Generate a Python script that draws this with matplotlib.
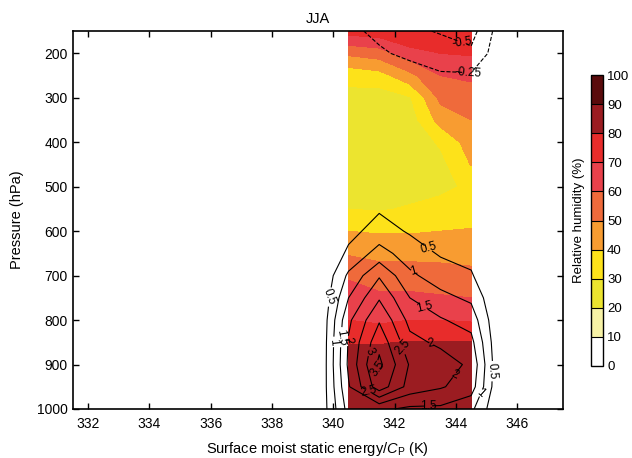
import numpy as np
import matplotlib
matplotlib.use("Agg")
import matplotlib.pyplot as plt
from matplotlib.colors import ListedColormap, BoundaryNorm

plt.rcParams["font.family"] = ["Liberation Sans", "DejaVu Sans"]
plt.rcParams["mathtext.fontset"] = "custom"
plt.rcParams["mathtext.rm"] = "Liberation Sans"
plt.rcParams["mathtext.it"] = "Liberation Sans:italic"

# pressure levels (hPa), shared by both fields
pressure = [1000, 950, 900, 850, 800, 750, 700, 650, 600, 550,
            500, 450, 400, 350, 300, 250, 200, 150]

# relative humidity (%) - one list per MSE bin, values from 1000 hPa upward
rh_mse = [340.5, 341.5, 342.5, 343.5, 344.5]
rh_3405 = [85, 85, 84, 79.5, 70, 64, 59, 49, 40, 30, 25, 23, 23, 24, 27, 33, 52, 74]
rh_3415 = [86, 86, 84, 79.5, 68, 62, 55, 47, 39, 29, 24, 22, 22, 22, 25, 36, 55, 76]
rh_3425 = [86, 86, 84, 80.5, 70, 62, 55, 47, 39, 31, 26, 23, 23, 25, 29, 47, 66, 80]
rh_3435 = [86, 86, 84, 80.5, 70, 61, 54, 47, 40, 33, 28, 27, 31.5, 44, 52.5, 60, 70, 80]
rh_3445 = [86, 86, 84, 80.5, 69, 60, 53, 46, 41, 33, 31.5, 40.5, 45, 50, 55, 62, 71, 79]

# contoured field (black lines)
ct_mse = [339.5, 340.5, 341.5, 342.5, 343.5, 344.5, 345.5]
ct_3395 = [0.0, -0.05, -0.1, -0.1, -0.1, -0.1, -0.1, -0.1, -0.1, -0.1, -0.1, -0.1, -0.1, -0.1, -0.1, -0.1, -0.1, -0.1]
ct_3405 = [1.7, 1.95, 2.1, 2.05, 1.9, 1.5, 1.1, 0.6, 0.35, 0.2, 0.1, 0.05, 0.0, 0.0, -0.05, -0.05, -0.1, -0.2]
ct_3415 = [1.6, 3.3, 3.62, 3.35, 2.95, 2.45, 1.95, 1.2, 0.7, 0.45, 0.2, 0.1, 0.05, 0.0, -0.05, -0.1, -0.22, -0.3]
ct_3425 = [1.4, 2.3, 2.45, 2.15, 1.85, 1.5, 1.1, 0.75, 0.45, 0.25, 0.15, 0.08, 0.03, 0.0, -0.05, -0.15, -0.3, -0.45]
ct_3435 = [1.4, 2.05, 2.25, 1.9, 1.55, 1.15, 0.75, 0.45, 0.3, 0.15, 0.1, 0.05, 0.0, -0.05, -0.1, -0.22, -0.38, -0.52]
ct_3445 = [1.12, 1.75, 1.9, 1.65, 1.3, 0.9, 0.55, 0.35, 0.2, 0.1, 0.05, 0.0, -0.05, -0.1, -0.15, -0.22, -0.45, -0.6]
ct_3455 = [-0.1, -0.1, -0.1, -0.1, -0.1, -0.1, -0.1, -0.1, -0.1, -0.1, -0.1, -0.1, -0.1, -0.1, -0.1, -0.1, -0.08, -0.1]

rh_levels = list(range(0, 101, 10))
rh_colors = ["#ffffff", "#f7f2a6", "#ece42f", "#fde21a", "#f89c31",
             "#ef6a3b", "#e9414b", "#e82c2b", "#9b1c21", "#5a0b0c"]
ct_levels = [-0.5, -0.25, 0.5, 1, 1.5, 2, 2.5, 3, 3.5]

# where the contour labels sit (approx)
label_spots = [
    (343.1, 640), (339.85, 745), (345.2, 915),
    (342.6, 693), (340.05, 850), (344.8, 960),
    (342.95, 779), (340.3, 840), (343.1, 987),
    (340.55, 850), (343.2, 852), (344.0, 940),
    (342.2, 870), (341.15, 963),
    (341.2, 873), (341.5, 903),
    (344.2, 176), (344.4, 236),
]

rh = np.array([rh_3405, rh_3415, rh_3425, rh_3435, rh_3445]).T
ct = np.array([ct_3395, ct_3405, ct_3415, ct_3425, ct_3435, ct_3445, ct_3455]).T

fig = plt.figure(figsize=(6.32, 4.58), dpi=100)
ax = fig.add_axes([0.115, 0.107, 0.776, 0.825])

cmap = ListedColormap(rh_colors)
norm = BoundaryNorm(rh_levels, cmap.N)
cf = ax.contourf(rh_mse, pressure, rh, levels=rh_levels, cmap=cmap, norm=norm)

cs = ax.contour(ct_mse, pressure, ct, levels=ct_levels, colors="black", linewidths=0.8)
ax.clabel(cs, fmt="%g", fontsize=8.5, inline=True, inline_spacing=2, manual=label_spots)

ax.set_xlim(331.5, 347.5)
ax.set_ylim(1000, 150)
ax.set_xticks(range(332, 347, 2))
ax.set_yticks(range(200, 1001, 100))
ax.tick_params(direction="in", top=True, right=True, length=4, width=1, labelsize=10)
ax.tick_params(axis="x", pad=6)
for s in ax.spines.values():
    s.set_linewidth(1.2)
ax.set_xlabel("Surface moist static energy/$C_\\mathrm{P}$ (K)", fontsize=10.5, labelpad=6)
ax.set_ylabel("Pressure (hPa)", fontsize=10.5, labelpad=9)
ax.set_title("JJA", fontsize=10.5, pad=6)

cax = fig.add_axes([0.935, 0.201, 0.019, 0.635])
cb = fig.colorbar(cf, cax=cax, ticks=rh_levels, drawedges=True)
cb.outline.set_linewidth(1.0)
cb.dividers.set_linewidth(0.8)
cb.ax.tick_params(length=0, labelsize=9.5, pad=3)
cb.ax.yaxis.set_label_position("left")
cb.set_label("Relative humidity (%)", fontsize=9.5, labelpad=4)

fig.savefig("out.png", dpi=100)
